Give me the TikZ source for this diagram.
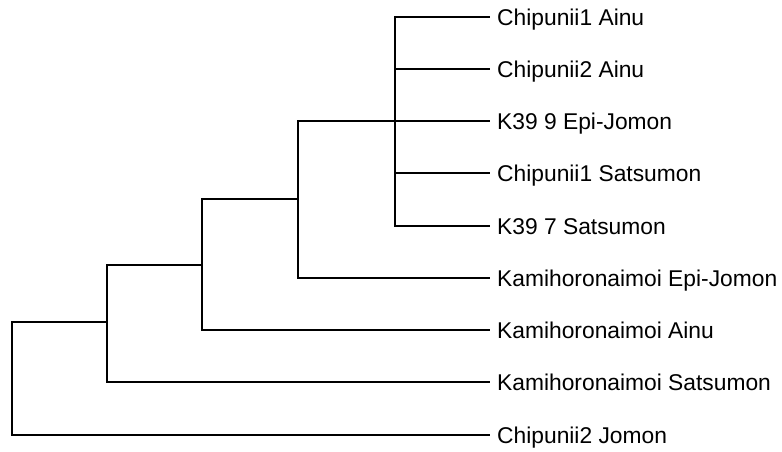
\documentclass[tikz,border=0pt]{standalone}
\usepackage{fontspec}
\setmainfont{Liberation Sans}
\begin{document}
\begin{tikzpicture}[x=1pt,y=-1pt,
  branch/.style={line width=2.2pt,line join=miter,line cap=rect},
  leaf/.style={anchor=west,inner xsep=8pt,inner ysep=0pt,text height=16.3pt,text depth=0pt,
    font=\fontsize{22.8}{27}\selectfont}]
\useasboundingbox (0,0) rectangle (782,452);
% leaves
\node[leaf] (l1) at (489,17)  {Chipunii1 Ainu};
\node[leaf] (l2) at (489,69)  {Chipunii2 Ainu};
\node[leaf] (l3) at (489,121) {K39 9 Epi-Jomon};
\node[leaf] (l4) at (489,173) {Chipunii1 Satsumon};
\node[leaf] (l5) at (489,226) {K39 7 Satsumon};
\node[leaf] (l6) at (489,278) {Kamihoronaimoi Epi-Jomon};
\node[leaf] (l7) at (489,330) {Kamihoronaimoi Ainu};
\node[leaf] (l8) at (489,382) {Kamihoronaimoi Satsumon};
\node[leaf] (l9) at (489,435) {Chipunii2 Jomon};
% internal nodes
\coordinate (c5) at (395,121);
\coordinate (c6) at (298,199);
\coordinate (c7) at (202,265);
\coordinate (c8) at (107,322);
\coordinate (c9) at (12,435);
% branches
\foreach \l in {l1,l2,l3,l4,l5} \draw[branch] (\l.west) -| (c5);
\draw[branch] (c5) -| (c6);
\draw[branch] (l6.west) -| (c6);
\draw[branch] (c6) -| (c7);
\draw[branch] (l7.west) -| (c7);
\draw[branch] (c7) -| (c8);
\draw[branch] (l8.west) -| (c8);
\draw[branch] (c8) -| (c9);
\draw[branch] (l9.west) -- (c9);
\end{tikzpicture}
\end{document}
